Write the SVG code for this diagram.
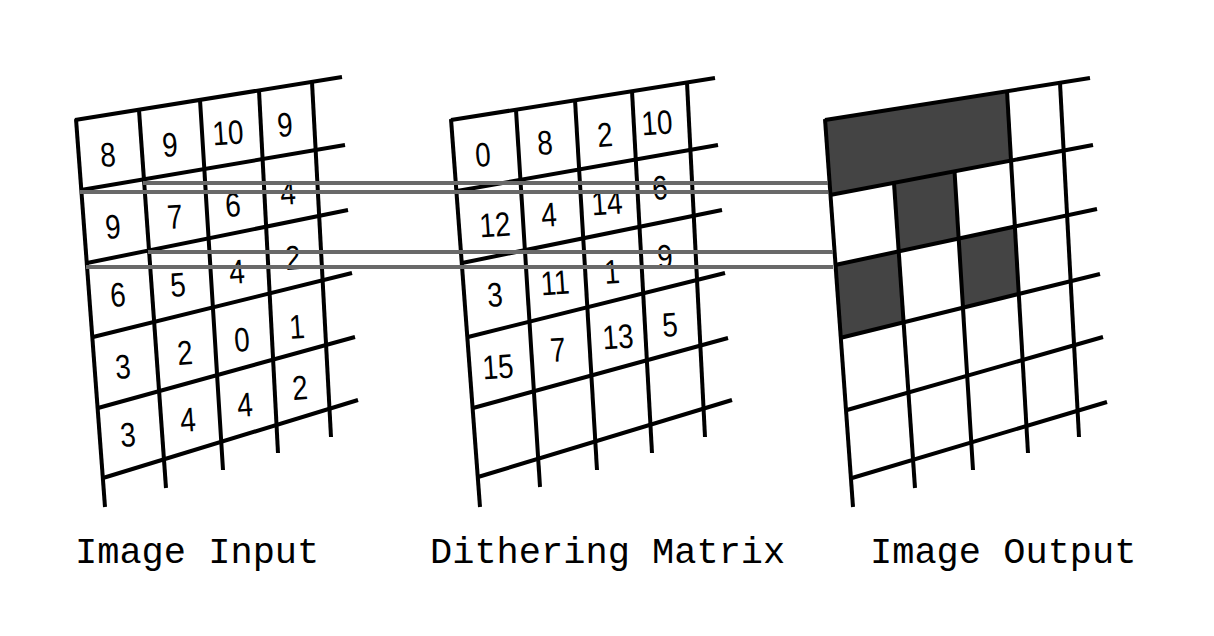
<svg xmlns="http://www.w3.org/2000/svg" width="1214" height="636" viewBox="0 0 1214 636">
<style>
.g line{stroke:#000;stroke-width:4;stroke-linecap:butt}
.n{font-family:"Liberation Sans",Arial,sans-serif;font-size:34px;fill:#000;text-anchor:middle;dominant-baseline:central}
.lbl{font-family:"Courier New","Liberation Mono",monospace;font-size:37px;fill:#000}
.dark{fill:#444;stroke:none}
.link line{stroke:#696969;stroke-width:4}
</style>
<rect width="1214" height="636" fill="#fff"/>

<g id="output-fill">
<polygon class="dark" points="825,120 1007,91.2 1011,160.5 954.5,171.3 958.7,238.6 898.8,251.4 894.2,182.8 830.4,195"/>
<polygon class="dark" points="835.5,265 898.8,251.4 903.7,322.3 840.8,338"/>
<polygon class="dark" points="958.7,238.6 1015,226.5 1018.8,294 963,307.7"/>
</g>

<g id="image-input">
<g class="g">
<line x1="75" y1="120" x2="342" y2="77"/>
<line x1="81" y1="190" x2="345" y2="145"/>
<line x1="87" y1="263" x2="348" y2="210"/>
<line x1="93" y1="337" x2="352" y2="273"/>
<line x1="98" y1="408" x2="355" y2="337"/>
<line x1="103" y1="478" x2="358" y2="400"/>
<line x1="76" y1="119" x2="105" y2="507"/>
<line x1="139" y1="110" x2="166" y2="488"/>
<line x1="200" y1="100" x2="223" y2="470"/>
<line x1="259" y1="90.5" x2="278" y2="453"/>
<line x1="312" y1="82" x2="331" y2="437"/>
</g>
<g>
<text class="n" transform="translate(108,155) rotate(-4) scale(0.82,1)">8</text>
<text class="n" transform="translate(170,145) rotate(-4) scale(0.82,1)">9</text>
<text class="n" transform="translate(228,133) rotate(-4) scale(0.82,1)">10</text>
<text class="n" transform="translate(285,125) rotate(-4) scale(0.82,1)">9</text>
<text class="n" transform="translate(113,227) rotate(-4) scale(0.82,1)">9</text>
<text class="n" transform="translate(175,217) rotate(-4) scale(0.82,1)">7</text>
<text class="n" transform="translate(233,205) rotate(-4) scale(0.82,1)">6</text>
<text class="n" transform="translate(288,193) rotate(-4) scale(0.82,1)">4</text>
<text class="n" transform="translate(118,295) rotate(-4) scale(0.82,1)">6</text>
<text class="n" transform="translate(178,285) rotate(-4) scale(0.82,1)">5</text>
<text class="n" transform="translate(237,272) rotate(-4) scale(0.82,1)">4</text>
<text class="n" transform="translate(293,258) rotate(-4) scale(0.82,1)">2</text>
<text class="n" transform="translate(123,367) rotate(-4) scale(0.82,1)">3</text>
<text class="n" transform="translate(185,353) rotate(-4) scale(0.82,1)">2</text>
<text class="n" transform="translate(242,340) rotate(-4) scale(0.82,1)">0</text>
<text class="n" transform="translate(297,327) rotate(-4) scale(0.82,1)">1</text>
<text class="n" transform="translate(128,435) rotate(-4) scale(0.82,1)">3</text>
<text class="n" transform="translate(188,420) rotate(-4) scale(0.82,1)">4</text>
<text class="n" transform="translate(245,405) rotate(-4) scale(0.82,1)">4</text>
<text class="n" transform="translate(300,388) rotate(-4) scale(0.82,1)">2</text>
</g>
</g>

<g id="dithering-matrix">
<g class="g">
<line x1="451" y1="120" x2="715" y2="78"/>
<line x1="457" y1="191" x2="718" y2="145"/>
<line x1="462" y1="263" x2="722" y2="210"/>
<line x1="468" y1="337" x2="725" y2="273"/>
<line x1="473" y1="408" x2="728" y2="338"/>
<line x1="478" y1="477" x2="732" y2="400"/>
<line x1="451" y1="119" x2="480" y2="507"/>
<line x1="516" y1="110" x2="540" y2="487"/>
<line x1="575" y1="100" x2="597" y2="470"/>
<line x1="632" y1="91" x2="652" y2="453"/>
<line x1="687" y1="82.5" x2="705" y2="437"/>
</g>
<g>
<text class="n" transform="translate(483,155) rotate(-4) scale(0.82,1)">0</text>
<text class="n" transform="translate(545,143) rotate(-4) scale(0.82,1)">8</text>
<text class="n" transform="translate(605,135) rotate(-4) scale(0.82,1)">2</text>
<text class="n" transform="translate(657,123) rotate(-4) scale(0.82,1)">10</text>
<text class="n" transform="translate(495,225) rotate(-4) scale(0.82,1)">12</text>
<text class="n" transform="translate(549,215) rotate(-4) scale(0.82,1)">4</text>
<text class="n" transform="translate(607,203) rotate(-4) scale(0.82,1)">14</text>
<text class="n" transform="translate(660,188) rotate(-4) scale(0.82,1)">6</text>
<text class="n" transform="translate(495,295) rotate(-4) scale(0.82,1)">3</text>
<text class="n" transform="translate(555,283) rotate(-4) scale(0.82,1)">11</text>
<text class="n" transform="translate(612,272) rotate(-4) scale(0.82,1)">1</text>
<text class="n" transform="translate(665,257) rotate(-4) scale(0.82,1)">9</text>
<text class="n" transform="translate(498,367) rotate(-4) scale(0.82,1)">15</text>
<text class="n" transform="translate(558,350) rotate(-4) scale(0.82,1)">7</text>
<text class="n" transform="translate(618,337) rotate(-4) scale(0.82,1)">13</text>
<text class="n" transform="translate(670,325) rotate(-4) scale(0.82,1)">5</text>
</g>
</g>

<g id="image-output">
<g class="g">
<line x1="825" y1="120" x2="1090" y2="78"/>
<line x1="830" y1="195" x2="1093" y2="145"/>
<line x1="835" y1="265" x2="1097" y2="209"/>
<line x1="840" y1="338" x2="1100" y2="274"/>
<line x1="847" y1="410" x2="1103" y2="337"/>
<line x1="852" y1="478" x2="1107" y2="402"/>
<line x1="825" y1="119" x2="853" y2="507"/>
<line x1="894" y1="183" x2="915" y2="488"/>
<line x1="954.5" y1="171" x2="973" y2="470"/>
<line x1="1007" y1="91" x2="1028" y2="453"/>
<line x1="1060" y1="83" x2="1079" y2="437"/>
</g>
</g>

<g id="connectors" class="link">
<line x1="143" y1="183" x2="828" y2="183"/>
<line x1="80" y1="192" x2="828" y2="192"/>
<line x1="148" y1="252" x2="833" y2="252"/>
<line x1="86" y1="267" x2="833" y2="267"/>
</g>

<g id="labels">
<text class="lbl" x="75" y="563">Image Input</text>
<text class="lbl" x="430" y="563">Dithering Matrix</text>
<text class="lbl" x="870" y="563">Image Output</text>
</g>
</svg>
